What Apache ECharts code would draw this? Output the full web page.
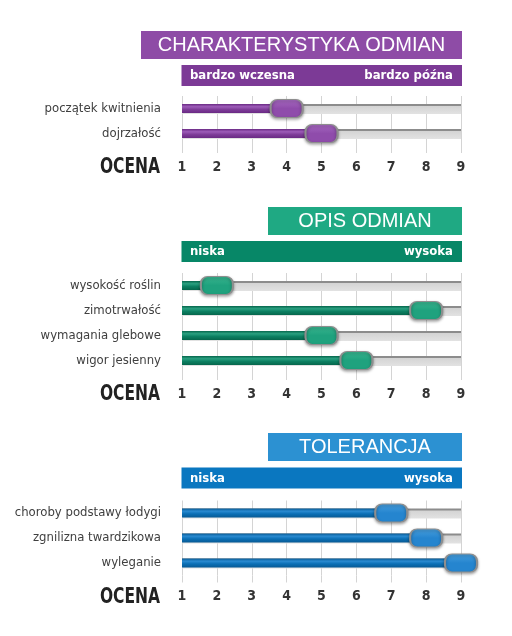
<html>
<head>
    <meta charset="utf-8">
    <title>Charakterystyka odmian</title>
    <style>
        * { margin: 0; padding: 0; }
        #chart-container { width: 512px; height: 636px; background: #fff; }
    </style>
</head>
<body>
<div id="chart-container"></div>
<script src="https://cdn.jsdelivr.net/npm/echarts@6.0.0/dist/echarts.min.js"></script>
<script>
    // rows and ratings
    const rows1 = ['początek kwitnienia', 'dojrzałość'];
    const vals1 = [4, 5];
    const rows2 = ['wysokość roślin', 'zimotrwałość', 'wymagania glebowe', 'wigor jesienny'];
    const vals2 = [2, 8, 5, 6];
    const rows3 = ['choroby podstawy łodygi', 'zgnilizna twardzikowa', 'wyleganie'];
    const vals3 = [7, 8, 9];
    const scaleMin = 1;
    const scaleMax = 9;
    const titles = ['CHARAKTERYSTYKA ODMIAN', 'OPIS ODMIAN', 'TOLERANCJA'];
    const lowLabels = ['bardzo wczesna', 'niska', 'niska'];
    const highLabels = ['bardzo późna', 'wysoka', 'wysoka'];
    const axisName = 'OCENA';

    const narrow = '"Liberation Sans Narrow", "DejaVu Sans Condensed", sans-serif';

    const themes = [
        { title: '#8e4ca6', sub: '#7c3a96', dark: '#6a2a84', mid: '#7f3d99', light: '#9d5cb8', knob: '#8f4cab', knobLight: '#a86bc2' },
        { title: '#1fa983', sub: '#078767', dark: '#06664c', mid: '#0c8062', light: '#2aa080', knob: '#1fa27e', knobLight: '#3bb690' },
        { title: '#2c91d2', sub: '#0a77c0', dark: '#085a94', mid: '#0b6fb5', light: '#2a8ad0', knob: '#2585cf', knobLight: '#4aa0de' }
    ];

    // panel layout (pixels)
    const grids = [
        { top: 96, height: 50, titleX: 141, titleY: 31, subY: 65 },
        { top: 273, height: 100, titleX: 268, titleY: 207, subY: 241 },
        { top: 500.5, height: 75, titleX: 268, titleY: 433, subY: 467.5 }
    ];
    const left = 182, right = 461;

    const allRows = [rows1, rows2, rows3];
    const allVals = [vals1, vals2, vals3];

    const vGrad = (stops) => new echarts.graphic.LinearGradient(0, 0, 0, 1,
        stops.map(s => ({ offset: s[0], color: s[1] })));

    const knobPath = 'path://M7,0H25A7,7 0 0 1 32,7V11A7,7 0 0 1 25,18H7A7,7 0 0 1 0,11V7A7,7 0 0 1 7,0Z';

    let option = {
        backgroundColor: '#ffffff',
        animation: false,
        grid: [],
        xAxis: [],
        yAxis: [],
        series: [],
        graphic: []
    };

    for (let p = 0; p < 3; p++) {
        const g = grids[p];
        const th = themes[p];
        option.grid.push({ left: left, width: right - left, top: g.top, height: g.height,
                           containLabel: false, outerBoundsMode: 'none' });
        option.xAxis.push({
            type: 'value', gridIndex: p, min: scaleMin, max: scaleMax, interval: 1,
            axisLine: { show: false },
            axisTick: { show: true, length: 7, lineStyle: { color: '#d4d4d4', width: 1 } },
            splitLine: { show: true, lineStyle: { color: '#d4d4d4', width: 1 } },
            axisLabel: { margin: 14, color: '#333', fontSize: 14, fontWeight: 'bold', fontFamily: narrow }
        });
        option.yAxis.push({
            type: 'category', gridIndex: p, data: allRows[p], inverse: true,
            axisLine: { show: false }, axisTick: { show: false }, splitLine: { show: false },
            axisLabel: { margin: 21, color: '#404040', fontSize: 13, fontFamily: narrow }
        });
        // grey track
        option.series.push({
            type: 'bar', xAxisIndex: p, yAxisIndex: p, barWidth: 10, barGap: '-100%',
            data: allRows[p].map(() => scaleMax), silent: true, z: 2,
            itemStyle: { color: vGrad([[0, '#8c8c8c'], [0.18, '#8c8c8c'], [0.22, '#d4d4d4'], [1, '#e2e2e2']]) }
        });
        // coloured fill
        option.series.push({
            type: 'bar', xAxisIndex: p, yAxisIndex: p, barWidth: 9, barGap: '-100%',
            data: allVals[p], z: 3,
            itemStyle: { color: vGrad([[0, th.dark], [0.3, th.light], [0.6, th.mid], [1, th.dark]]) }
        });
        // knob
        option.series.push({
            type: 'scatter', xAxisIndex: p, yAxisIndex: p, clip: false, z: 4,
            symbol: knobPath, symbolSize: [32, 18],
            data: allVals[p].map((v, i) => [v, allRows[p][i]]),
            itemStyle: {
                color: vGrad([[0, th.knobLight], [0.5, th.knob], [1, th.knob]]),
                borderColor: '#8e8e8e', borderWidth: 1.6,
                shadowBlur: 3, shadowOffsetY: 1.5, shadowColor: 'rgba(0,0,0,0.35)', opacity: 1
            }
        });

        const bottom = g.top + g.height;
        // title bar
        option.graphic.push({
            type: 'rect', left: g.titleX, top: g.titleY,
            shape: { width: right + 1 - g.titleX, height: 28 },
            style: { fill: th.title }
        });
        option.graphic.push({
            type: 'text', x: (g.titleX + right + 1) / 2, y: g.titleY + 14.5,
            style: { text: titles[p], fill: '#fff', fontSize: 20, fontFamily: 'Liberation Sans, Arial, sans-serif',
                     align: 'center', verticalAlign: 'middle' }
        });
        // scale ends bar
        option.graphic.push({
            type: 'rect', left: left - 0.5, top: g.subY,
            shape: { width: right - left + 1.5, height: 21 },
            style: { fill: th.sub }
        });
        option.graphic.push({
            type: 'text', x: 190, y: g.subY + 11,
            style: { text: lowLabels[p], fill: '#fff', fontSize: 13, fontWeight: 'bold', fontFamily: narrow,
                     align: 'left', verticalAlign: 'middle' }
        });
        option.graphic.push({
            type: 'text', x: 453, y: g.subY + 11,
            style: { text: highLabels[p], fill: '#fff', fontSize: 13, fontWeight: 'bold', fontFamily: narrow,
                     align: 'right', verticalAlign: 'middle' }
        });
        // OCENA
        option.graphic.push({
            type: 'text', x: 160, y: bottom + 22, scaleX: 0.82,
            style: { text: axisName, fill: '#222', fontSize: 21, fontWeight: 'bold', fontFamily: narrow,
                     align: 'right', verticalAlign: 'middle' }
        });
    }

    var dom = document.getElementById('chart-container');
    var myChart = echarts.init(dom, null, { renderer: 'canvas' });
    myChart.setOption(option);
</script>
</body>
</html>
